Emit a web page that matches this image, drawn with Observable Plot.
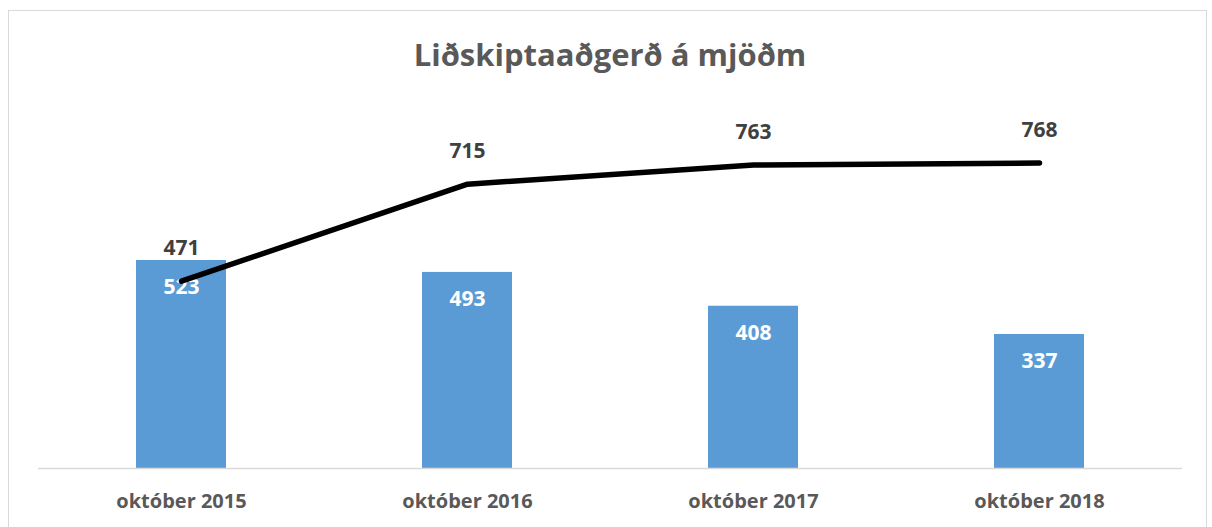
<!DOCTYPE html>
<html>
<head>
<meta charset="utf-8">
<script src="https://cdn.jsdelivr.net/npm/d3@7"></script>
<script src="https://cdn.jsdelivr.net/npm/@observablehq/plot@0.6"></script>
<style>
  html, body { margin: 0; padding: 0; background: #fff; }
  body { width: 1212px; height: 527px; position: relative; overflow: hidden; font-family: "Open Sans", sans-serif; }
  #frame { position: absolute; left: 8px; top: 10px; width: 1199px; height: 530px; border: 1.5px solid #d9d9d9; box-sizing: border-box; pointer-events: none; }
  #title { height: 92px; padding-top: 8px; line-height: 92px; text-align: center; font-weight: 700; font-size: 31px; color: #595959; padding-left: 8px; }
  #chart svg { display: block; }
</style>
</head>
<body>
<div id="frame"></div>
<div id="title">Liðskiptaaðgerð á mjöðm</div>
<div id="chart"></div>
<script>
const categories = ["október 2015", "október 2016", "október 2017", "október 2018"];
const barValues = [523, 493, 408, 337];
const lineValues = [471, 715, 763, 768];

const data = categories.map((c, i) => ({cat: c, bar: barValues[i], line: lineValues[i]}));

const chart = Plot.plot({
  width: 1212,
  height: 427,
  marginLeft: 38,
  marginRight: 30,
  marginTop: 20,
  marginBottom: 59,
  style: {fontFamily: "Open Sans, sans-serif", background: "transparent"},
  x: {domain: categories, paddingInner: 0.685, paddingOuter: 0.3425, label: null},
  y: {domain: [0, 875], axis: null},
  marks: [
    Plot.barY(data, {x: "cat", y: "bar", fill: "#5b9bd5"}),
    Plot.ruleY([0], {stroke: "#d9d9d9", strokeWidth: 1.5}),
    Plot.axisX({tickSize: 0, tickPadding: 25, fontSize: 20, fontWeight: "bold", fill: "#595959", label: null}),
    Plot.text(data, {x: "cat", y: "bar", text: d => String(d.bar), dy: 27, fill: "white", fontSize: 21, fontWeight: "bold"}),
    Plot.lineY(data, {x: "cat", y: "line", stroke: "black", strokeWidth: 5.5, strokeLinecap: "round", strokeLinejoin: "round"}),
    Plot.text(data, {x: "cat", y: "line", text: d => String(d.line), dy: -33, fill: "#404040", fontSize: 21, fontWeight: "bold"})
  ]
});
document.getElementById("chart").appendChild(chart);
</script>
</body>
</html>
